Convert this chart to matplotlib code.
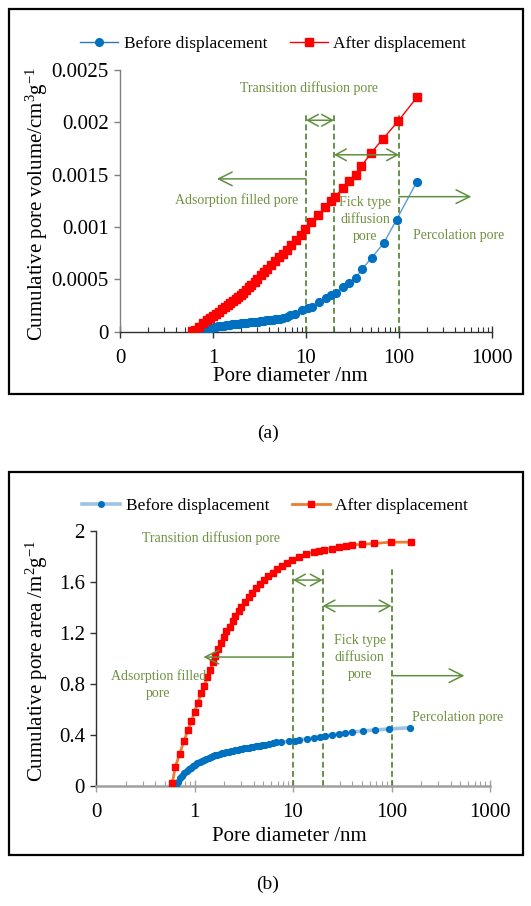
import numpy as np
import matplotlib
matplotlib.use("Agg")
import matplotlib.pyplot as plt
from matplotlib.patches import Rectangle
from matplotlib.lines import Line2D
from matplotlib.ticker import FixedLocator, FixedFormatter

plt.rcParams['font.family'] = ['Liberation Serif', 'DejaVu Serif']
plt.rcParams['mathtext.fontset'] = 'custom'
plt.rcParams['mathtext.rm'] = 'Liberation Serif'
plt.rcParams['mathtext.it'] = 'Liberation Serif:italic'

# ---------------- data ----------------
red_d = [0.595, 0.638, 0.705, 0.78, 0.856, 0.932, 1.0, 1.08, 1.17, 1.26,
         1.34, 1.45, 1.53, 1.63, 1.75, 1.86, 1.98, 2.1, 2.27, 2.44,
         2.59, 2.8, 3.0, 3.27, 3.54, 3.82, 4.2, 4.6, 5.1, 5.6,
         6.2, 6.95, 7.8, 8.76, 9.84, 11.4, 13.4, 16.2, 18.5, 20.7,
         24.8, 29.3, 34.2, 39.4, 50.3, 67, 97.7, 156]
# cumulative pore volume after displacement, in 1e-3 cm3/g
red_vol_e3 = [0.01, 0.02, 0.045, 0.08, 0.108, 0.13, 0.15, 0.17, 0.19, 0.215,
              0.233, 0.255, 0.27, 0.29, 0.312, 0.33, 0.352, 0.37, 0.40, 0.425,
              0.448, 0.477, 0.508, 0.538, 0.57, 0.603, 0.64, 0.675, 0.71, 0.745,
              0.785, 0.83, 0.875, 0.925, 0.985, 1.05, 1.115, 1.19, 1.245, 1.29,
              1.37, 1.44, 1.50, 1.58, 1.71, 1.84, 2.01, 2.24]
red_area = [0.02, 0.146, 0.248, 0.348, 0.434, 0.507, 0.58, 0.651, 0.724, 0.784,
            0.85, 0.907, 0.967, 1.02, 1.072, 1.12, 1.17, 1.21, 1.247, 1.294,
            1.33, 1.37, 1.40, 1.443, 1.477, 1.514, 1.548, 1.582, 1.613, 1.644,
            1.67, 1.697, 1.723, 1.749, 1.77, 1.79, 1.815, 1.83, 1.84, 1.85,
            1.86, 1.87, 1.88, 1.888, 1.893, 1.90, 1.91, 1.91]

blue_d = [0.65, 0.68, 0.71, 0.75, 0.79, 0.83, 0.87, 0.92, 0.97, 1.02,
          1.07, 1.13, 1.19, 1.25, 1.32, 1.39, 1.46, 1.54, 1.62, 1.71,
          1.80, 1.90, 2.0, 2.11, 2.22, 2.34, 2.47, 2.6, 2.74, 2.89,
          3.05, 3.21, 3.39, 3.57, 3.76, 3.97, 4.18, 4.41, 4.65, 4.9,
          5.2, 5.7, 6.2, 6.7, 7.6, 9.1, 10.6, 11.6, 13.8, 16.5,
          18.7, 21.0, 24.8, 29.3, 34.1, 40.1, 50.8, 68.5, 94, 155]
blue_vol_e3 = [0.0, 0.006, 0.012, 0.018, 0.024, 0.028, 0.032, 0.036, 0.04, 0.043,
               0.046, 0.05, 0.053, 0.056, 0.059, 0.062, 0.065, 0.068, 0.07, 0.073,
               0.075, 0.078, 0.08, 0.082, 0.084, 0.086, 0.088, 0.09, 0.093, 0.095,
               0.097, 0.1, 0.102, 0.104, 0.107, 0.11, 0.113, 0.116, 0.119, 0.122,
               0.126, 0.133, 0.142, 0.155, 0.172, 0.205, 0.222, 0.237, 0.284, 0.319,
               0.35, 0.373, 0.43, 0.468, 0.516, 0.596, 0.707, 0.845, 1.07, 1.43]
blue_area = [0.0, 0.03, 0.058, 0.08, 0.10, 0.115, 0.128, 0.142, 0.155, 0.166,
             0.175, 0.185, 0.193, 0.202, 0.211, 0.218, 0.225, 0.232, 0.237, 0.243,
             0.248, 0.253, 0.257, 0.261, 0.265, 0.27, 0.274, 0.278, 0.281, 0.285,
             0.289, 0.292, 0.295, 0.298, 0.301, 0.304, 0.308, 0.311, 0.315, 0.318,
             0.322, 0.328, 0.334, 0.339, 0.341, 0.348, 0.354, 0.358, 0.369, 0.376,
             0.384, 0.39, 0.40, 0.408, 0.413, 0.421, 0.429, 0.437, 0.445, 0.455]

x_major = [0.1, 1, 10, 100, 1000]
x_major_labels = ['0', '1', '10', '100', '1000']
y_ticks_a = [0, 0.0005, 0.001, 0.0015, 0.002, 0.0025]
y_labels_a = ['0', '0.0005', '0.001', '0.0015', '0.002', '0.0025']
y_ticks_b = [0, 0.4, 0.8, 1.2, 1.6, 2.0]
y_labels_b = ['0', '0.4', '0.8', '1.2', '1.6', '2']
boundaries = [10, 20, 100]

# ---------------- figure ----------------
W, H = 531, 906
fig = plt.figure(figsize=(W / 100, H / 100), dpi=100)

def fx(px):
    return px / W

def fy(py):
    return 1 - py / H

ax_a = fig.add_axes([fx(120), fy(331.7), fx(492) - fx(120), fy(70) - fy(331.7)])
ax_b = fig.add_axes([fx(96), fy(785.7), fx(490) - fx(96), fy(530.7) - fy(785.7)])

TXT = '#6f9140'
ARR = '#5f8f3f'
DASH = '#4f7f2f'

minor = [m * 10.0 ** e for e in range(-1, 3) for m in range(2, 10)]

def style_axes(ax, yticks, ylabels, xspine_col, xspine_lw, yspine_col):
    ax.set_xscale('log')
    ax.set_xlim(0.1, 1000)
    ax.set_ylim(yticks[0], yticks[-1])
    ax.spines['top'].set_visible(False)
    ax.spines['right'].set_visible(False)
    ax.spines['bottom'].set_color(xspine_col)
    ax.spines['bottom'].set_linewidth(xspine_lw)
    ax.spines['left'].set_color(yspine_col)
    ax.spines['left'].set_linewidth(1.0)
    ax.xaxis.set_major_locator(FixedLocator(x_major))
    ax.xaxis.set_major_formatter(FixedFormatter(x_major_labels))
    ax.xaxis.set_minor_locator(FixedLocator(minor))
    ax.xaxis.set_minor_formatter(FixedFormatter([''] * len(minor)))
    ax.set_yticks(yticks)
    ax.set_yticklabels(ylabels)
    ax.tick_params(axis='x', which='major', direction='inout', length=9,
                   width=1.0, color=xspine_col, labelsize=15, pad=8)
    ax.tick_params(axis='x', which='minor', direction='in', length=3.5,
                   width=0.8, color=xspine_col)
    ax.tick_params(axis='y', which='major', direction='out', length=4,
                   width=1.0, color=yspine_col, labelsize=15, pad=4)
    ax.set_facecolor('none')

style_axes(ax_a, y_ticks_a, y_labels_a, '#303030', 1.0, '#808080')
style_axes(ax_b, y_ticks_b, y_labels_b, '#a0a0a0', 1.8, '#303030')

# ---------------- panel (a) ----------------
red_vol = np.array(red_vol_e3) * 1e-3
blue_vol = np.array(blue_vol_e3) * 1e-3
ax_a.plot(blue_d, blue_vol, '-', color='#5b9bd5', lw=1.0, zorder=2)
ax_a.plot(blue_d, blue_vol, 'o', ms=5.6, color='#0070c0', zorder=3)
ax_a.plot(red_d, red_vol, '-', color='#ff0000', lw=1.0, zorder=2)
ax_a.plot(red_d, red_vol, 's', ms=5.8, color='#ff0000', zorder=3)

def decorate(ax, dash_top, dbl1_y, dbl2_y, left_y, left_head, right_y, right_head):
    ax.vlines(boundaries, 0, dash_top, colors=DASH, linestyles=(0, (3.5, 2)), lw=1.2, zorder=2)
    kw = dict(arrowstyle='<->,head_length=0.55,head_width=0.3', color=ARR, lw=1.1,
              shrinkA=0, shrinkB=0, mutation_scale=14)
    ax.annotate('', xy=(boundaries[0], dbl1_y), xytext=(boundaries[1], dbl1_y), arrowprops=kw)
    ax.annotate('', xy=(boundaries[1], dbl2_y), xytext=(boundaries[2], dbl2_y), arrowprops=kw)
    kw1 = dict(arrowstyle='->,head_length=0.7,head_width=0.35', color=ARR, lw=1.1,
               shrinkA=0, shrinkB=0, mutation_scale=14)
    ax.annotate('', xy=(left_head, left_y), xytext=(boundaries[0], left_y), arrowprops=kw1)
    ax.annotate('', xy=(right_head, right_y), xytext=(boundaries[2], right_y), arrowprops=kw1)

decorate(ax_a, 0.0021, 0.00202, 0.00169, 0.00146, 1.1, 0.00129, 600)
tk = dict(color=TXT, fontsize=10, ha='center', va='center')
ax_a.text(10.8, 0.00233, 'Transition diffusion pore', **tk)
ax_a.text(1.78, 0.001255, 'Adsorption filled pore', **tk)
ax_a.text(43.6, 0.00107, 'Fick type\ndiffusion\npore', linespacing=1.4, **tk)
ax_a.text(434, 0.000915, 'Percolation pore', **tk)

ax_a.set_xlabel('Pore diameter /nm', fontsize=15)
ax_a.xaxis.set_label_coords((290 - 120) / 372, (331.7 - 367) / 261.7)
ax_a.set_ylabel(r'Cumulative pore volume/cm$^{3}$g$^{-1}$', fontsize=15)
ax_a.yaxis.set_label_coords((50 - 120) / 372, 0.49)

# ---------------- panel (b) ----------------
ax_b.plot(blue_d, blue_area, '-', color='#9dc3e6', lw=2.6, zorder=2)
ax_b.plot(blue_d, blue_area, 'o', ms=4.2, color='#0070c0', zorder=3)
ax_b.plot(red_d, red_area, '-', color='#ed7d31', lw=2.0, zorder=2)
ax_b.plot(red_d, red_area, 's', ms=4.2, color='#ff0000', zorder=3)

decorate(ax_b, 1.71, 1.613, 1.41, 1.009, 1.23, 0.863, 550)
ax_b.text(1.48, 1.945, 'Transition diffusion pore', **tk)
ax_b.text(0.43, 0.79, 'Adsorption filled\npore', linespacing=1.4, **tk)
ax_b.text(47.5, 1.007, 'Fick type\ndiffusion\npore', linespacing=1.4, **tk)
ax_b.text(473, 0.536, 'Percolation pore', **tk)

ax_b.set_xlabel('Pore diameter /nm', fontsize=15)
ax_b.xaxis.set_label_coords((289 - 96) / 394, (785.7 - 827) / 255)
ax_b.set_ylabel(r'Cumulative pore area /m$^{2}$g$^{-1}$', fontsize=15)
ax_b.yaxis.set_label_coords((50 - 96) / 394, 0.49)

# ---------------- legends ----------------
leg_a = [Line2D([], [], color='#2e75b6', lw=1.0, marker='o', ms=5.5, mfc='#0070c0', mec='#0070c0'),
         Line2D([], [], color='#ff0000', lw=1.0, marker='s', ms=5.5, mfc='#ff0000', mec='#ff0000')]
fig.legend(leg_a, ['Before displacement', 'After displacement'], loc='center',
           bbox_to_anchor=(fx(273), fy(44)), ncol=2, frameon=False, fontsize=12.5,
           handlelength=2.2, handletextpad=0.3, columnspacing=1.3)
leg_b = [Line2D([], [], color='#9dc3e6', lw=2.6, marker='o', ms=4, mfc='#0070c0', mec='#0070c0'),
         Line2D([], [], color='#ed7d31', lw=2.0, marker='s', ms=4, mfc='#ff0000', mec='#ff0000')]
fig.legend(leg_b, ['Before displacement', 'After displacement'], loc='center',
           bbox_to_anchor=(fx(275), fy(506)), ncol=2, frameon=False, fontsize=12.5,
           handlelength=2.2, handletextpad=0.3, columnspacing=1.3)

# ---------------- frames & captions ----------------
fig.add_artist(Rectangle((fx(8.5), fy(394)), fx(523) - fx(8.5), fy(8.5) - fy(394),
                         transform=fig.transFigure, fill=False, ec='black', lw=1.6))
fig.add_artist(Rectangle((fx(8.5), fy(855)), fx(523) - fx(8.5), fy(471.7) - fy(855),
                         transform=fig.transFigure, fill=False, ec='black', lw=1.6))
fig.text(fx(268), fy(433), '(a)', ha='center', va='center', fontsize=14)
fig.text(fx(268), fy(884), '(b)', ha='center', va='center', fontsize=14)

fig.savefig('out.png', dpi=100, facecolor='white')
